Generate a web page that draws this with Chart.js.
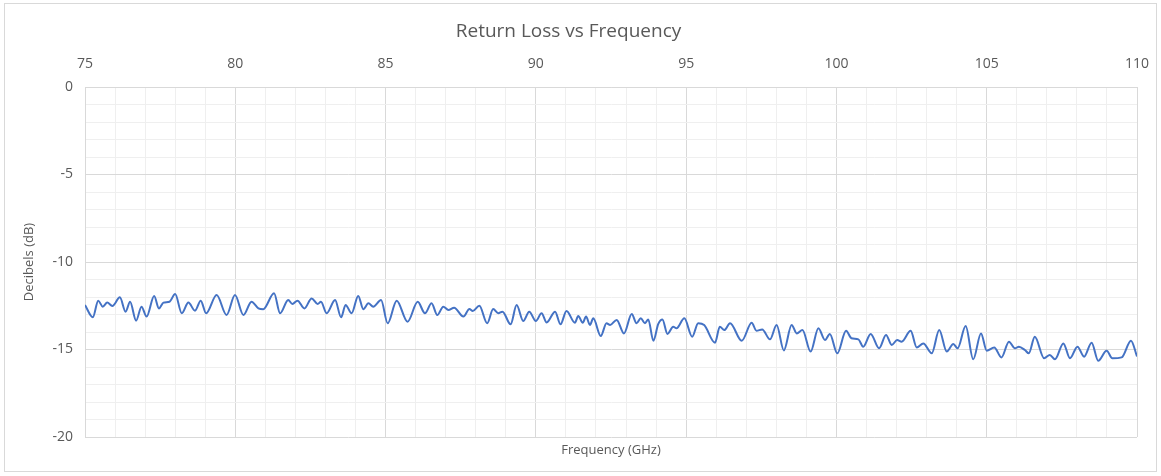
<!DOCTYPE html>
<html>
<head>
<meta charset="utf-8">
<script src="https://cdn.jsdelivr.net/npm/chart.js@4.4.1/dist/chart.umd.min.js"></script>
<style>
  body { margin: 0; background: #fff; }
  #wrap { position: relative; width: 1161px; height: 476px; }
  #frame { position: absolute; left: 4px; top: 3px; width: 1151px; height: 467px; border: 1px solid #d9d9d9; pointer-events: none; }
</style>
</head>
<body>
<div id="wrap">
  <canvas id="myChart" width="1161" height="476"></canvas>
  <div id="frame"></div>
</div>
<script>
// frequency (GHz) and return loss (dB)
var freqs = [
    75.00, 75.26, 75.44, 75.59, 75.74, 75.91, 76.16, 76.35, 76.50, 76.70,
    76.88, 77.05, 77.30, 77.46, 77.61, 77.81, 78.00, 78.22, 78.44, 78.66,
    78.85, 79.03, 79.38, 79.71, 79.99, 80.27, 80.54, 80.77, 80.93, 81.29,
    81.49, 81.76, 81.90, 82.07, 82.30, 82.54, 82.74, 82.85, 83.04, 83.32,
    83.52, 83.67, 83.87, 84.09, 84.26, 84.43, 84.59, 84.85, 85.07, 85.37,
    85.73, 86.07, 86.31, 86.53, 86.72, 86.92, 87.09, 87.28, 87.59, 87.79,
    87.90, 88.12, 88.38, 88.58, 88.75, 88.89, 89.16, 89.36, 89.58, 89.78,
    90.00, 90.19, 90.36, 90.64, 90.82, 91.02, 91.30, 91.41, 91.56, 91.67,
    91.80, 91.91, 92.16, 92.35, 92.47, 92.69, 92.93, 93.19, 93.35, 93.49,
    93.63, 93.74, 93.91, 94.07, 94.21, 94.38, 94.57, 94.68, 94.94, 95.20,
    95.40, 95.60, 95.96, 96.12, 96.27, 96.46, 96.85, 97.18, 97.34, 97.53,
    97.79, 98.01, 98.25, 98.51, 98.68, 98.87, 99.14, 99.40, 99.62, 99.78,
    100.03, 100.32, 100.50, 100.73, 100.89, 101.14, 101.42, 101.65, 101.84, 102.02,
    102.17, 102.47, 102.67, 102.89, 103.17, 103.42, 103.67, 103.89, 104.03, 104.30,
    104.55, 104.81, 105.00, 105.25, 105.49, 105.74, 105.94, 106.07, 106.27, 106.40,
    106.60, 106.91, 107.10, 107.27, 107.55, 107.77, 108.02, 108.24, 108.49, 108.71,
    108.99, 109.18, 109.49, 109.80, 110.00
];
var returnLoss = [
    -12.46, -13.16, -12.21, -12.55, -12.32, -12.51, -12.02, -12.84, -12.27, -13.35,
    -12.55, -13.12, -11.94, -12.65, -12.32, -12.27, -11.83, -12.93, -12.32, -12.78,
    -12.21, -12.93, -11.89, -13.03, -11.89, -13.03, -12.27, -12.65, -12.70, -11.79,
    -12.93, -12.17, -12.40, -12.21, -12.65, -12.08, -12.40, -12.27, -12.93, -12.17,
    -13.16, -12.46, -12.93, -11.94, -12.70, -12.36, -12.55, -12.17, -13.50, -12.21,
    -13.41, -12.27, -12.93, -12.36, -13.03, -12.55, -12.74, -12.61, -13.12, -12.69,
    -12.80, -12.50, -13.50, -12.69, -12.93, -12.84, -13.56, -12.46, -13.37, -12.84,
    -13.37, -12.93, -13.45, -12.84, -13.56, -12.80, -13.47, -13.09, -13.47, -13.12,
    -13.60, -13.22, -14.23, -13.50, -13.60, -13.31, -14.08, -12.97, -13.50, -13.22,
    -13.50, -13.28, -14.50, -13.55, -13.28, -14.11, -13.70, -13.79, -13.22, -14.27,
    -13.50, -13.60, -14.61, -13.70, -13.89, -13.50, -14.50, -13.47, -13.93, -13.85,
    -14.42, -13.60, -15.05, -13.60, -14.08, -13.89, -15.12, -13.79, -14.46, -14.11,
    -15.22, -13.93, -14.36, -14.42, -14.84, -14.11, -14.93, -14.17, -14.74, -14.46,
    -14.55, -13.93, -14.88, -14.65, -15.22, -13.89, -15.12, -14.69, -14.93, -13.66,
    -15.56, -14.08, -15.07, -14.88, -15.45, -14.55, -14.93, -14.84, -15.03, -15.22,
    -14.27, -15.50, -15.31, -15.56, -14.65, -15.50, -14.84, -15.41, -14.61, -15.64,
    -15.07, -15.50, -15.45, -14.50, -15.40
];
var xTicks = [75, 80, 85, 90, 95, 100, 105, 110];
var yTicks = [0, -5, -10, -15, -20];

var points = freqs.map(function (f, i) { return { x: f, y: returnLoss[i] }; });
var majorColor = '#d9d9d9';
var minorColor = '#efefef';
var textColor = '#595959';
var font = 'Open Sans';

function gridColor(ticksList) {
    return function (ctx) {
        return ticksList.indexOf(ctx.tick.value) >= 0 ? majorColor : minorColor;
    };
}

var ctx = document.getElementById('myChart').getContext('2d');
var myChart = new Chart(ctx, {
    type: 'line',
    data: {
        datasets: [{
            label: 'Return Loss',
            data: points,
            borderColor: '#4472c4',
            borderWidth: 2,
            pointRadius: 0,
            fill: false,
            cubicInterpolationMode: 'monotone'
        }]
    },
    options: {
        responsive: false,
        animation: false,
        layout: { padding: { left: 0, right: 24, top: 0, bottom: 0 } },
        plugins: {
            legend: { display: false },
            tooltip: { enabled: false },
            title: {
                display: true,
                text: 'Return Loss vs Frequency',
                color: textColor,
                font: { family: font, size: 19, weight: 'normal' },
                padding: { top: 20, bottom: 6 }
            }
        },
        scales: {
            x: {
                type: 'linear',
                position: 'top',
                min: 75,
                max: 110,
                ticks: {
                    stepSize: 1,
                    autoSkip: false,
                    maxRotation: 0,
                    color: textColor,
                    font: { family: font, size: 14 },
                    padding: 15,
                    callback: function (v) { return xTicks.indexOf(v) >= 0 ? v : ''; }
                },
                grid: { color: gridColor(xTicks), drawTicks: false },
                border: { display: true, color: majorColor },
                afterFit: function (scale) {
                    scale.height = 38.2;
                    scale.paddingLeft = 0;
                    scale.paddingRight = 0;
                }
            },
            x2: {
                type: 'linear',
                position: 'bottom',
                min: 75,
                max: 110,
                ticks: { display: false },
                grid: { display: false, drawTicks: false },
                border: { display: false },
                title: {
                    display: true,
                    text: 'Frequency (GHz)',
                    color: textColor,
                    font: { family: font, size: 13 },
                    padding: { top: 0, bottom: 18 }
                },
                afterFit: function (scale) {
                    scale.height = 39;
                    scale.paddingLeft = 0;
                    scale.paddingRight = 0;
                }
            },
            y: {
                min: -20,
                max: 0,
                ticks: {
                    stepSize: 1,
                    autoSkip: false,
                    color: textColor,
                    font: { family: font, size: 14 },
                    padding: 12,
                    callback: function (v) { return yTicks.indexOf(v) >= 0 ? v : ''; }
                },
                grid: { color: gridColor(yTicks), drawTicks: false },
                border: { display: true, color: majorColor },
                title: {
                    display: true,
                    text: 'Decibels (dB)',
                    color: textColor,
                    font: { family: font, size: 13 },
                    padding: { top: 21, bottom: 0 }
                },
                afterFit: function (scale) { scale.width = 85; }
            }
        }
    }
});
</script>
</body>
</html>
